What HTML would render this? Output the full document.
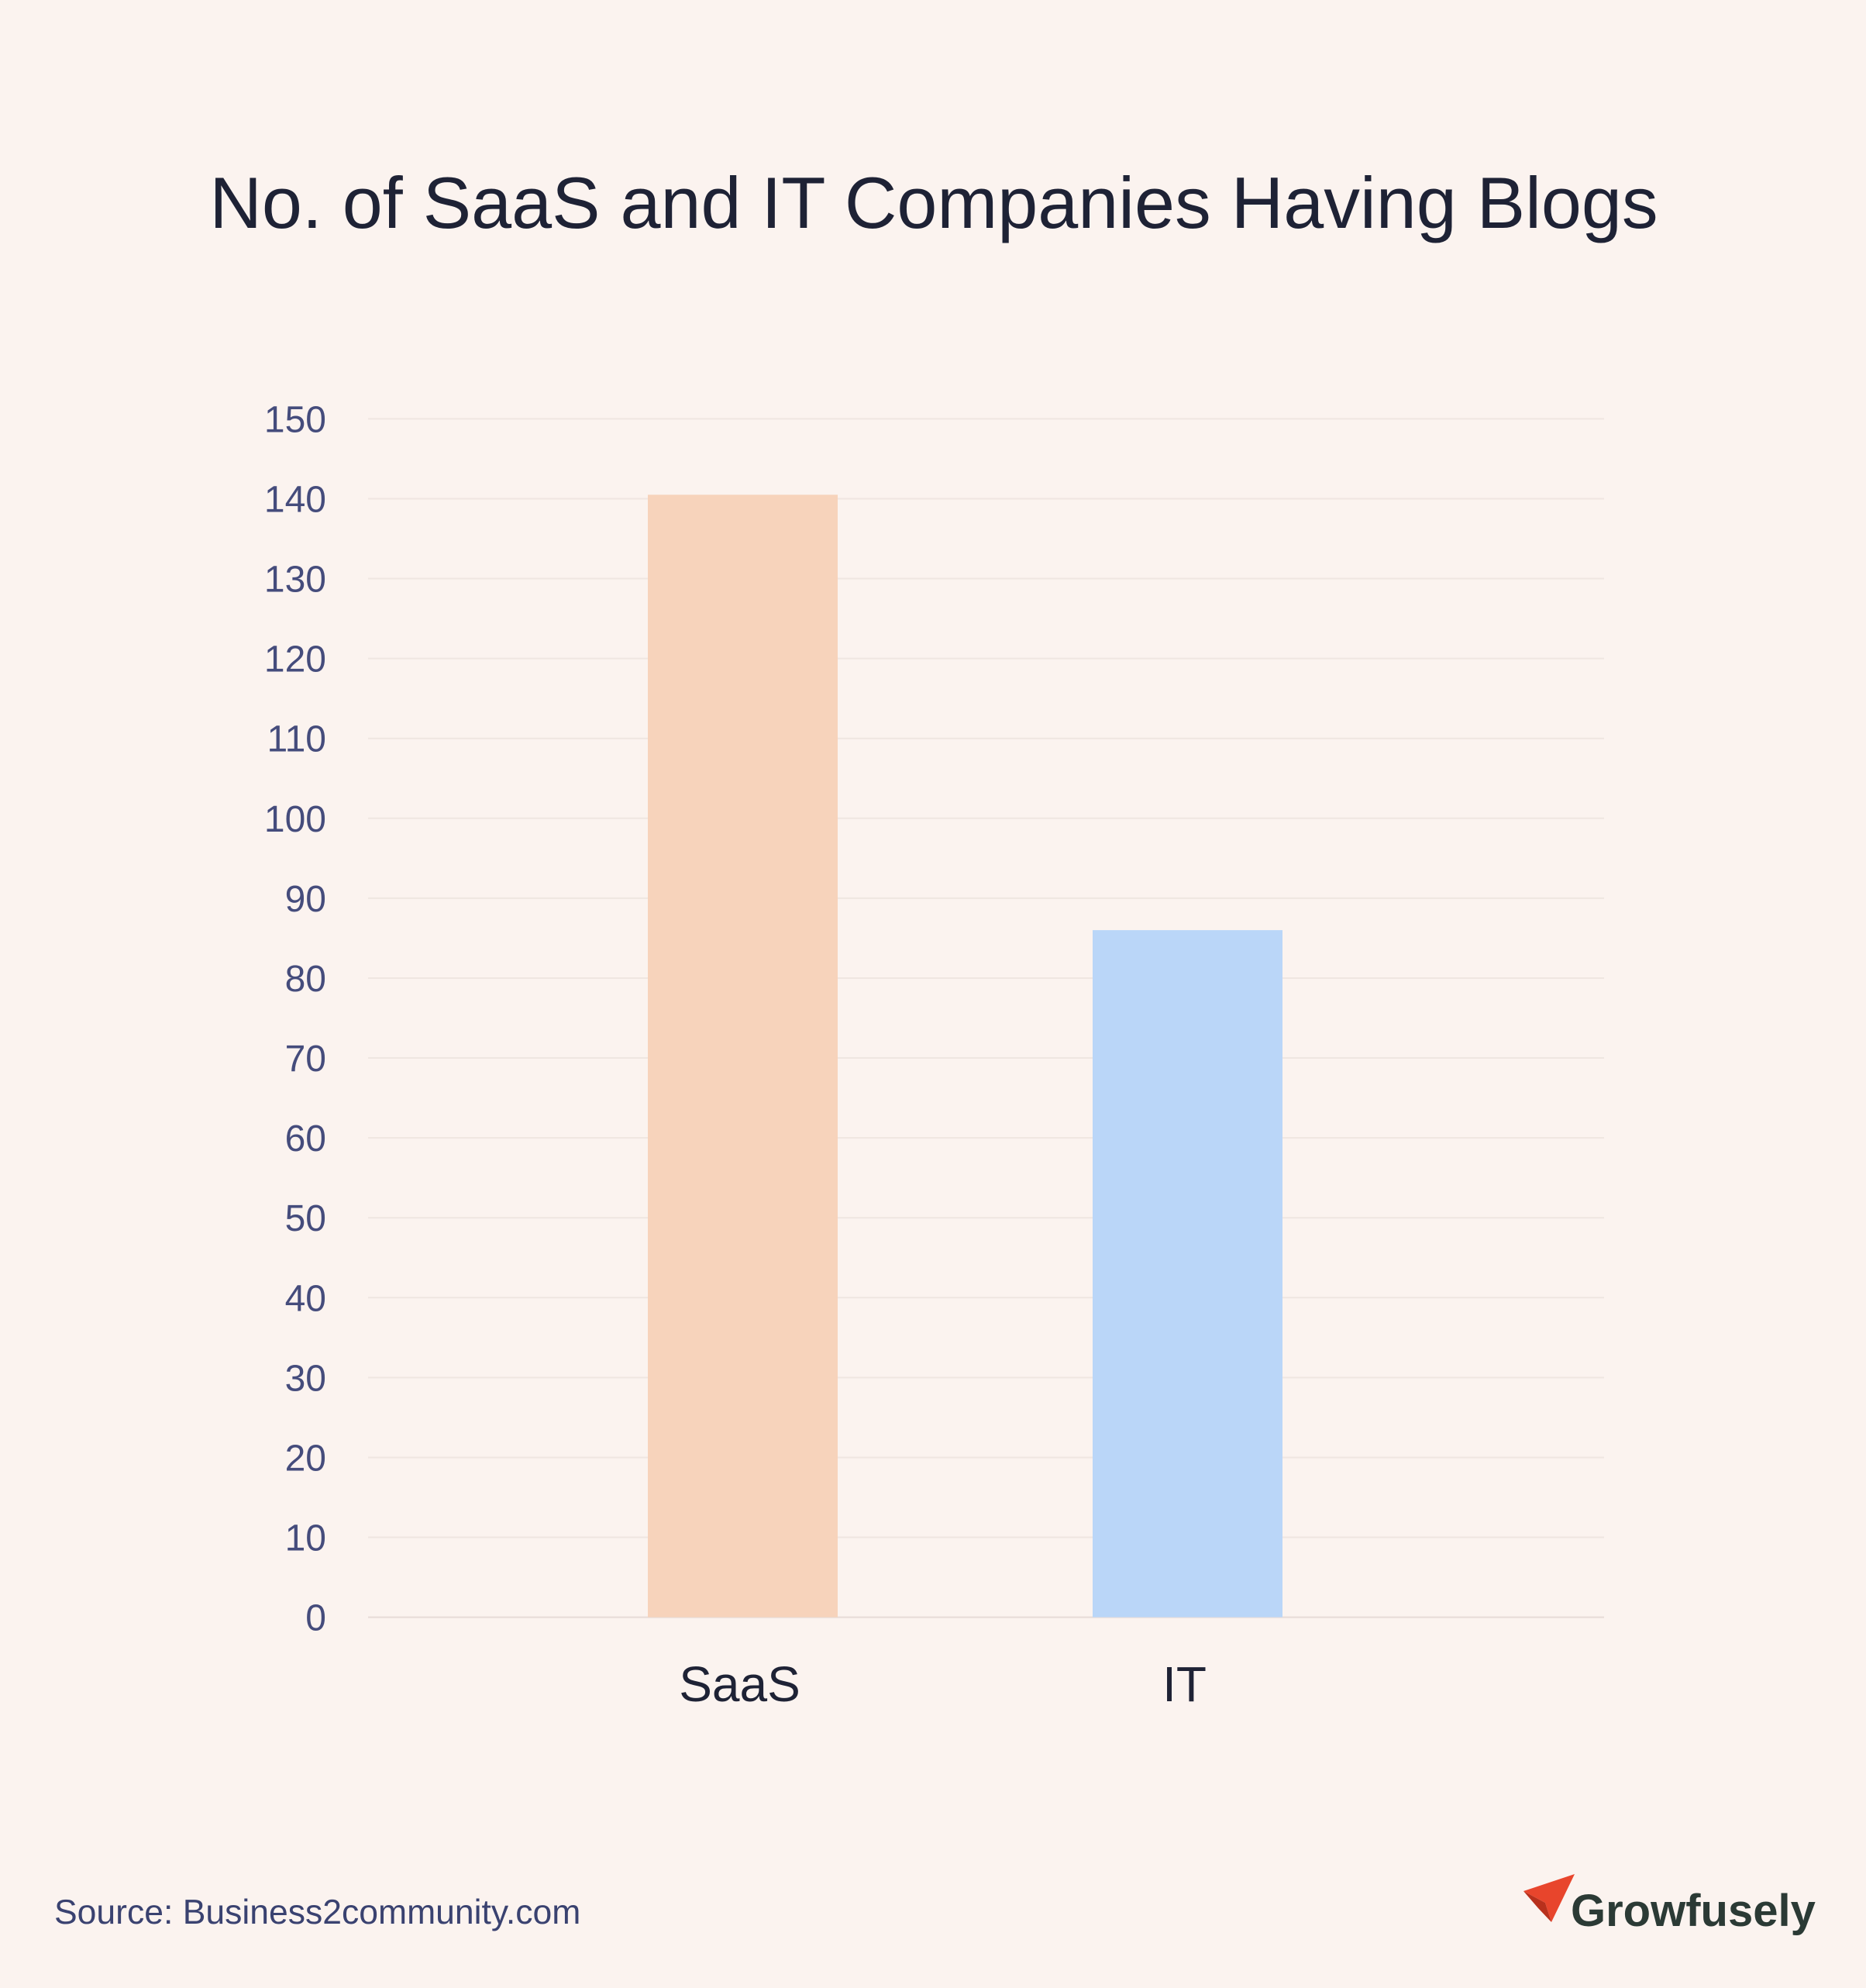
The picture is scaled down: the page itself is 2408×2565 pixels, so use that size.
<!DOCTYPE html>
<html><head><meta charset="utf-8">
<style>
html,body{margin:0;padding:0;background:#fbf3ef;}
body{width:2408px;height:2560px;overflow:hidden;font-family:"Liberation Sans",sans-serif;}
</style></head>
<body>
<svg id="chart" width="2408" height="2560" xmlns="http://www.w3.org/2000/svg">
<rect width="2408" height="2560" fill="#fbf3ef"/>
<text x="1205" y="294" text-anchor="middle" font-size="93.5" fill="#1e2235" font-family="Liberation Sans, sans-serif">No. of SaaS and IT Companies Having Blogs</text>
<g id="grid"></g>
<g id="yticks"></g>
<g id="bars"></g>
<g id="xlabels"></g>
<text x="70" y="2482" font-size="44.5" fill="#3a4270">Source: Business2community.com</text>
<g>
<polygon points="1966,2440 2032,2418 2002,2480 1994,2455" fill="#e8452c"/>
<polygon points="1966,2440 1994,2455 2002,2480 1985,2462" fill="#b8301c"/>
<text x="2027" y="2485" font-size="58" font-weight="bold" fill="#2b3a35">Growfusely</text>
</g>
</svg>
<script>
const categories = ["SaaS", "IT"];
const values = [140.5, 86];
const yTicks = [0,10,20,30,40,50,60,70,80,90,100,110,120,130,140,150];
const colors = ["#f7d3bb", "#bad6f8"];

const NS = "http://www.w3.org/2000/svg";
const y0 = 2086.6, y150 = 540.4, xL = 475, xR = 2070;
function yScale(v){ return y0 - (v/150)*(y0-y150); }
const barW = 245;
const centers = [958.5, 1532.5];
function xCenter(i){ return centers[i]; }

const grid = document.getElementById('grid');
const yt = document.getElementById('yticks');
yTicks.forEach(t=>{
  const l = document.createElementNS(NS,'line');
  l.setAttribute('x1',xL); l.setAttribute('x2',xR);
  l.setAttribute('y1',yScale(t)); l.setAttribute('y2',yScale(t));
  l.setAttribute('stroke', t===0 ? '#e6dcd7' : '#efe6e1'); l.setAttribute('stroke-width', 2);
  
  
  grid.appendChild(l);
  const tx = document.createElementNS(NS,'text');
  tx.setAttribute('x', 421); tx.setAttribute('y', yScale(t)+17);
  tx.setAttribute('text-anchor','end'); tx.setAttribute('font-size', 48);
  tx.setAttribute('fill','#454c7c');
  tx.textContent = t;
  
  
  yt.appendChild(tx);
});
const bars = document.getElementById('bars');
const xl = document.getElementById('xlabels');
categories.forEach((c,i)=>{
  const r = document.createElementNS(NS,'rect');
  r.setAttribute('x', xCenter(i)-barW/2); r.setAttribute('width', barW);
  r.setAttribute('y', yScale(values[i])); r.setAttribute('height', y0 - yScale(values[i]));
  r.setAttribute('fill', colors[i]);
  
  
  bars.appendChild(r);
  const tx = document.createElementNS(NS,'text');
  tx.setAttribute('x', xCenter(i)-4); tx.setAttribute('y', 2195);
  tx.setAttribute('text-anchor','middle'); tx.setAttribute('font-size', 64);
  tx.setAttribute('fill','#1e2235');
  tx.textContent = c;
  
  
  xl.appendChild(tx);
});
</script>
</body></html>
